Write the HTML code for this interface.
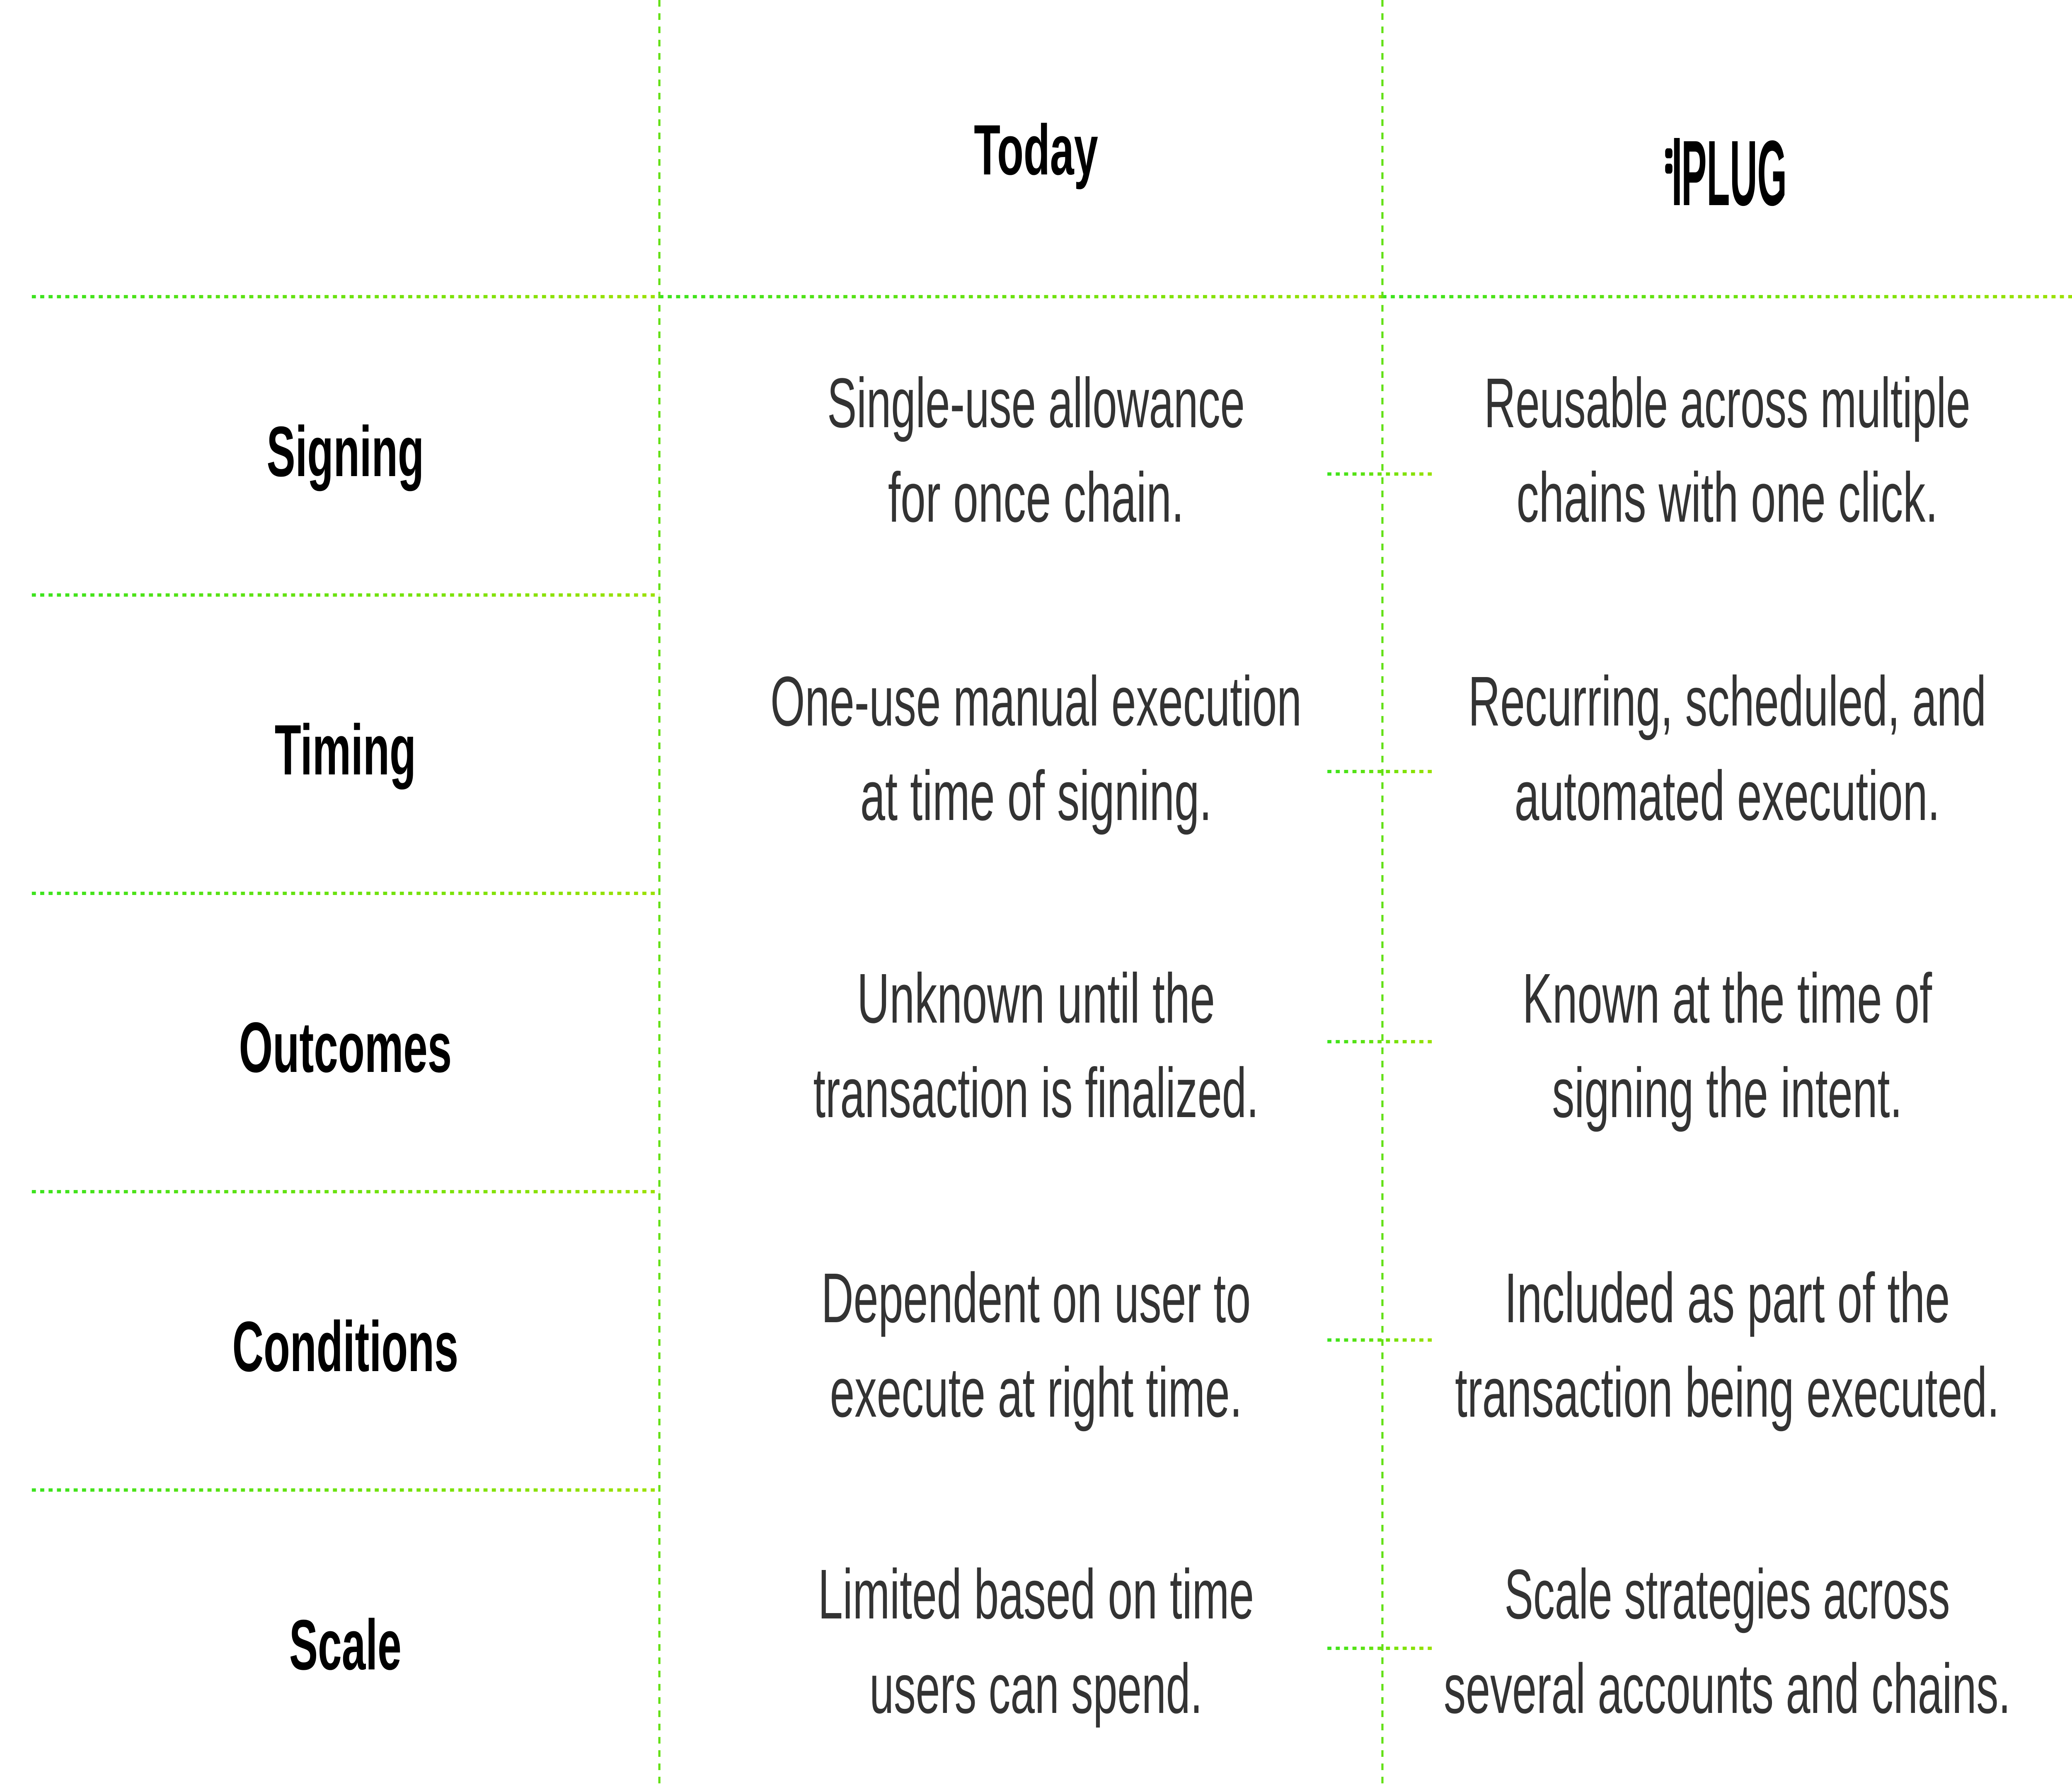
<!DOCTYPE html>
<html><head><meta charset="utf-8"><style>
html,body{margin:0;padding:0;background:#fff;overflow:hidden;}
svg{display:block;width:100vw;height:100vh;}
.lab{font-family:"Liberation Sans",sans-serif;font-weight:700;font-size:172px;fill:#000;}
.t{font-family:"Liberation Sans",sans-serif;font-size:170px;fill:#333;}
</style></head><body>
<svg viewBox="0 0 7680 4320" preserveAspectRatio="none" xmlns="http://www.w3.org/2000/svg">
<defs>
<linearGradient id="gA" gradientUnits="userSpaceOnUse" x1="118" y1="0" x2="2444" y2="0"><stop offset="0" stop-color="#3ce31e"/><stop offset="1" stop-color="#9ce100"/></linearGradient>
<linearGradient id="gB" gradientUnits="userSpaceOnUse" x1="2444" y1="0" x2="5124" y2="0"><stop offset="0" stop-color="#3ce31e"/><stop offset="1" stop-color="#9ce100"/></linearGradient>
<linearGradient id="gC" gradientUnits="userSpaceOnUse" x1="5124" y1="0" x2="7680" y2="0"><stop offset="0" stop-color="#3ce31e"/><stop offset="1" stop-color="#9ce100"/></linearGradient>
<linearGradient id="gD" gradientUnits="userSpaceOnUse" x1="4920" y1="0" x2="5320" y2="0"><stop offset="0" stop-color="#3ce31e"/><stop offset="1" stop-color="#9ce100"/></linearGradient>
</defs>
<rect width="7680" height="4320" fill="#fff"/>
<g stroke-width="8" stroke-dasharray="15 16" fill="none">
<line x1="118" y1="716" x2="2444" y2="716" stroke="url(#gA)"/>
<line x1="2444" y1="716" x2="5124" y2="716" stroke="url(#gB)"/>
<line x1="5124" y1="716" x2="7680" y2="716" stroke="url(#gC)"/>
<line x1="118" y1="1436" x2="2444" y2="1436" stroke="url(#gA)"/>
<line x1="118" y1="2156" x2="2444" y2="2156" stroke="url(#gA)"/>
<line x1="118" y1="2876" x2="2444" y2="2876" stroke="url(#gA)"/>
<line x1="118" y1="3596" x2="2444" y2="3596" stroke="url(#gA)"/>
<line x1="4920" y1="1144" x2="5320" y2="1144" stroke="url(#gD)"/>
<line x1="4920" y1="1862" x2="5320" y2="1862" stroke="url(#gD)"/>
<line x1="4920" y1="2514" x2="5320" y2="2514" stroke="url(#gD)"/>
<line x1="4920" y1="3234" x2="5320" y2="3234" stroke="url(#gD)"/>
<line x1="4920" y1="3978" x2="5320" y2="3978" stroke="url(#gD)"/>
</g>
<g stroke-width="8" stroke-dasharray="16 16" stroke="#62e014" fill="none">
<line x1="2444" y1="0" x2="2444" y2="4320"/>
<line x1="5124" y1="0" x2="5124" y2="4320"/>
</g>
<rect x="6172" y="358" width="27" height="24" rx="8" fill="#000"/>
<rect x="6172" y="395" width="27" height="24" rx="8" fill="#000"/>
<rect x="6205" y="333" width="21" height="162" fill="#000"/>
<text x="3840" y="421" text-anchor="middle" class="lab" textLength="460" lengthAdjust="spacingAndGlyphs">Today</text>
<text x="6232" y="495" class="lab" style="font-size:224px" textLength="391" lengthAdjust="spacingAndGlyphs">PLUG</text>

<g text-anchor="middle">
<text x="1280" y="1149" class="lab" textLength="583" lengthAdjust="spacingAndGlyphs">Signing</text>
<text x="1280" y="1869" class="lab" textLength="524" lengthAdjust="spacingAndGlyphs">Timing</text>
<text x="1280" y="2587" class="lab" textLength="789" lengthAdjust="spacingAndGlyphs">Outcomes</text>
<text x="1280" y="3309" class="lab" textLength="838" lengthAdjust="spacingAndGlyphs">Conditions</text>
<text x="1280" y="4029" class="lab" textLength="416" lengthAdjust="spacingAndGlyphs">Scale</text>

<text x="3840" y="1031" class="t" textLength="1548" lengthAdjust="spacingAndGlyphs">Single-use allowance</text>
<text x="3840" y="1259" class="t" textLength="1097" lengthAdjust="spacingAndGlyphs">for once chain.</text>
<text x="6402" y="1031" class="t" textLength="1802" lengthAdjust="spacingAndGlyphs">Reusable across multiple</text>
<text x="6402" y="1259" class="t" textLength="1562" lengthAdjust="spacingAndGlyphs">chains with one click.</text>

<text x="3840" y="1751" class="t" textLength="1969" lengthAdjust="spacingAndGlyphs">One-use manual execution</text>
<text x="3840" y="1979" class="t" textLength="1303" lengthAdjust="spacingAndGlyphs">at time of signing.</text>
<text x="6402" y="1751" class="t" textLength="1920" lengthAdjust="spacingAndGlyphs">Recurring, scheduled, and</text>
<text x="6402" y="1979" class="t" textLength="1577" lengthAdjust="spacingAndGlyphs">automated execution.</text>

<text x="3840" y="2468" class="t" textLength="1327" lengthAdjust="spacingAndGlyphs">Unknown until the</text>
<text x="3840" y="2696" class="t" textLength="1651" lengthAdjust="spacingAndGlyphs">transaction is finalized.</text>
<text x="6402" y="2468" class="t" textLength="1518" lengthAdjust="spacingAndGlyphs">Known at the time of</text>
<text x="6402" y="2696" class="t" textLength="1298" lengthAdjust="spacingAndGlyphs">signing the intent.</text>

<text x="3840" y="3191" class="t" textLength="1592" lengthAdjust="spacingAndGlyphs">Dependent on user to</text>
<text x="3840" y="3419" class="t" textLength="1528" lengthAdjust="spacingAndGlyphs">execute at right time.</text>
<text x="6402" y="3191" class="t" textLength="1651" lengthAdjust="spacingAndGlyphs">Included as part of the</text>
<text x="6402" y="3419" class="t" textLength="2018" lengthAdjust="spacingAndGlyphs">transaction being executed.</text>

<text x="3840" y="3906" class="t" textLength="1616" lengthAdjust="spacingAndGlyphs">Limited based on time</text>
<text x="3840" y="4134" class="t" textLength="1234" lengthAdjust="spacingAndGlyphs">users can spend.</text>
<text x="6402" y="3906" class="t" textLength="1651" lengthAdjust="spacingAndGlyphs">Scale strategies across</text>
<text x="6402" y="4134" class="t" textLength="2101" lengthAdjust="spacingAndGlyphs">several accounts and chains.</text>
</g>
</svg>
</body></html>
